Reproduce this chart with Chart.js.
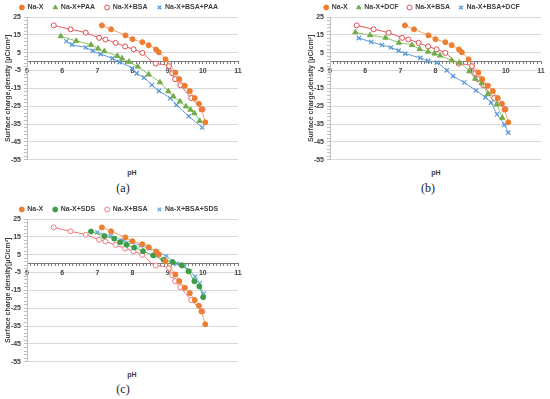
<!DOCTYPE html>
<html>
<head>
<meta charset="utf-8">
<script src="https://cdn.jsdelivr.net/npm/chart.js@4.4.0/dist/chart.umd.min.js"></script>
<style>
  body { margin: 0; width: 550px; height: 399px; overflow: hidden; background: #fff; position: relative; }
  canvas { position: absolute; }
  .lbl { position: absolute; transform: translate(-50%, -50%); white-space: nowrap; color: #404040; }
  .ph { font: bold 7px "Liberation Sans", Arial, sans-serif; }
  .sub { font: 12px "Liberation Serif", "Times New Roman", serif; color: #222; }
</style>
</head>
<body>
<canvas id="chartA" width="246" height="180"></canvas>
<canvas id="chartB" width="246" height="180"></canvas>
<canvas id="chartC" width="246" height="180"></canvas>
<div class="lbl ph" style="left:132px;top:172px">pH</div>
<div class="lbl sub" style="left:123px;top:188px">(a)</div>
<div class="lbl ph" style="left:436px;top:172px">pH</div>
<div class="lbl sub" style="left:428px;top:188px">(b)</div>
<div class="lbl ph" style="left:132px;top:374px">pH</div>
<div class="lbl sub" style="left:123px;top:389px">(c)</div>
<script>
// pH / surface charge density readings, one pair of arrays per series
const naX_pH = [7.13, 7.39, 7.8, 8.0, 8.28, 8.46, 8.67, 8.75, 8.94, 9.22, 9.33, 9.49, 9.63, 9.77, 9.89, 9.96, 10.07];
const naX_q = [20.3, 18.1, 14.7, 12.6, 10.9, 9.2, 6.8, 5.2, 1.3, -6.1, -9.8, -13.5, -16.5, -20.4, -23.6, -26.8, -34.0];

const bsa_pH = [5.76, 6.24, 6.67, 7.05, 7.23, 7.52, 7.79, 8.03, 8.28, 8.66, 9.04, 9.13, 9.21, 9.36, 9.67, 9.99];
const bsa_q = [20.3, 18.1, 16.2, 13.3, 12.4, 10.5, 8.5, 6.9, 4.9, -1.1, -2.5, -6.5, -9.8, -13.2, -20.4, -26.7];

const paa_pH = [5.96, 6.4, 6.82, 7.02, 7.2, 7.57, 7.7, 7.9, 8.15, 8.46, 8.78, 9.02, 9.16, 9.35, 9.52, 9.65, 9.76, 9.91];
const paa_q = [14.2, 11.6, 9.4, 7.3, 5.8, 3.2, 1.8, -0.1, -2.8, -7.2, -11.6, -16.6, -19.5, -22.3, -25.1, -26.9, -28.9, -33.2];

const bsaPaa_pH = [6.12, 6.28, 6.67, 6.87, 7.09, 7.43, 7.63, 7.99, 8.12, 8.33, 8.55, 8.75, 9.07, 9.25, 9.6, 9.98];
const bsaPaa_q = [11.4, 9.5, 7.9, 6.0, 4.2, 1.8, -0.3, -3.8, -6.6, -9.0, -13.1, -16.4, -20.5, -24.2, -30.6, -36.9];

const dcf_pH = [5.72, 6.14, 6.58, 6.96, 7.33, 7.55, 7.79, 7.97, 8.13, 8.46, 8.68, 8.96, 9.13, 9.31, 9.49, 9.74, 9.9];
const dcf_q = [16.4, 14.8, 13.4, 10.6, 9.3, 7.0, 5.6, 4.5, 3.4, 0.7, -0.6, -5.4, -9.6, -12.1, -18.2, -24.0, -31.5];

const bsaDcf_pH = [5.82, 6.17, 6.48, 6.73, 6.95, 7.14, 7.57, 7.79, 8.04, 8.32, 8.5, 8.82, 9.15, 9.42, 9.58, 9.75, 9.96, 10.07];
const bsaDcf_q = [13.2, 11.0, 9.3, 7.9, 6.2, 4.5, 2.1, 0.4, -0.6, -4.9, -8.1, -11.7, -16.2, -20.0, -23.0, -29.5, -35.3, -39.8];

const sds_pH = [6.82, 7.2, 7.48, 7.65, 7.83, 8.05, 8.3, 8.59, 8.88, 9.14, 9.4, 9.59, 9.76, 9.9, 10.01];
const sds_q = [18.0, 15.4, 14.0, 12.0, 10.6, 9.0, 7.0, 4.6, 2.2, 0.9, -0.9, -4.3, -9.9, -12.8, -18.8];

const bsaSds_pH = [7.0, 7.39, 7.73, 7.97, 8.23, 8.48, 8.7, 8.96, 9.26, 9.47, 9.64, 9.78, 9.91, 10.02];
const bsaSds_q = [17.5, 15.6, 13.0, 12.0, 10.0, 8.5, 6.8, 4.2, 0.0, -1.5, -4.2, -7.3, -11.0, -16.8];

const yTicksMin = -55, yTicksMax = 25;
const xTicksMin = 5, xTicksMax = 11;

const tickFont = { family: '"Liberation Sans", Arial, sans-serif', size: 7, weight: 'bold' };
const textColor = '#404040';

function series(label, px, qv, style) {
  return Object.assign({
    label,
    data: px.map((x, i) => ({ x, y: qv[i] })),
    showLine: true,
    borderWidth: 1,
    cubicInterpolationMode: 'monotone'
  }, style);
}

const orange = { pointStyle: 'circle', pointRadius: 2.5, borderColor: '#F3A061', pointBackgroundColor: '#ED7D31', pointBorderColor: '#ED7D31', pointBorderWidth: 1 };
const green = { pointStyle: 'triangle', pointRadius: 3, borderColor: '#8CC068', pointBackgroundColor: '#70AD47', pointBorderColor: '#70AD47', pointBorderWidth: 1 };
const red = { pointStyle: 'circle', pointRadius: 2.5, borderColor: '#E05A5E', pointBackgroundColor: '#fff', pointBorderColor: '#E04B4F', pointBorderWidth: 1 };
const blue = { pointStyle: 'crossRot', pointRadius: 3, borderColor: '#5B9BD5', pointBackgroundColor: '#5B9BD5', pointBorderColor: '#5B9BD5', pointBorderWidth: 1.3 };
const pink = { pointStyle: 'circle', pointRadius: 2.5, borderColor: '#EE6F73', pointBackgroundColor: '#fff', pointBorderColor: '#F07C80', pointBorderWidth: 1 };
const darkGreen = { pointStyle: 'circle', pointRadius: 2.5, borderColor: '#5CAE5C', pointBackgroundColor: '#3E9B48', pointBorderColor: '#3E9B48', pointBorderWidth: 1 };
const lightBlue = { pointStyle: 'crossRot', pointRadius: 3, borderColor: '#7DB5E3', pointBackgroundColor: '#6FA9DC', pointBorderColor: '#6FA9DC', pointBorderWidth: 1.3 };

// legend sits closer to the plot than Chart.js allows by default
const legendGap = {
  id: 'legendGap',
  beforeInit(chart) {
    const fit = chart.legend.fit;
    chart.legend.fit = function () {
      fit.call(this);
      this.height = chart.options.plugins.legend.labels.padding + 13;
    };
  }
};

function makePanel(id, left, areaTop, legendPad, datasets, yTitle) {
  const cv = document.getElementById(id);
  const top = areaTop - (legendPad + 13);
  cv.style.left = left + 'px';
  cv.style.top = top + 'px';
  cv.height = (areaTop + 144) - top + 6;

  return new Chart(cv, {
    type: 'scatter',
    data: { datasets },
    plugins: [legendGap],
    options: {
      responsive: false,
      animation: false,
      layout: { padding: { left: 0, right: 8, top: 0, bottom: 6 } },
      plugins: {
        tooltip: { enabled: false },
        legend: {
          position: 'top',
          labels: {
            usePointStyle: true,
            boxWidth: 4,
            boxHeight: 3.5,
            padding: legendPad,
            font: tickFont,
            color: textColor
          }
        }
      },
      scales: {
        x: {
          type: 'linear',
          min: xTicksMin,
          max: xTicksMax,
          position: { y: 0 },
          ticks: {
            stepSize: 0.1,
            autoSkip: false,
            maxRotation: 0,
            padding: 3,
            font: tickFont,
            color: textColor,
            callback: v => (Math.abs(v - Math.round(v)) < 1e-6 ? Math.round(v) : '')
          },
          grid: { drawOnChartArea: false, tickLength: 2, tickColor: '#7a7a7a' },
          border: { color: '#7a7a7a' }
        },
        y: {
          min: yTicksMin,
          max: yTicksMax,
          ticks: {
            stepSize: 2,
            autoSkip: false,
            padding: 3,
            font: tickFont,
            color: textColor,
            callback: v => ((v - yTicksMin) % 10 === 0 ? v : '')
          },
          grid: {
            color: c => (c.tick && (c.tick.value - yTicksMin) % 10 === 0 ? '#d9d9d9' : 'rgba(0,0,0,0)'),
            tickColor: '#bfbfbf',
            tickLength: 3
          },
          border: { color: '#bfbfbf' },
          title: {
            display: true,
            text: yTitle,
            font: tickFont,
            color: textColor,
            padding: { top: 4, bottom: 0 }
          },
          afterFit: s => { s.width = 27; }
        }
      }
    }
  });
}

makePanel('chartA', 0, 17, 10, [
  series('Na-X', naX_pH, naX_q, orange),
  series('Na-X+PAA', paa_pH, paa_q, green),
  series('Na-X+BSA', bsa_pH, bsa_q, red),
  series('Na-X+BSA+PAA', bsaPaa_pH, bsaPaa_q, blue)
], 'Surface charge,density [μC/cm²]');

makePanel('chartB', 303, 17, 9, [
  series('Na-X', naX_pH, naX_q, orange),
  series('Na-X+DCF', dcf_pH, dcf_q, green),
  series('Na-X+BSA', bsa_pH, bsa_q, red),
  series('Na-X+BSA+DCF', bsaDcf_pH, bsaDcf_q, blue)
], 'Surface charge,density [μC/cm²]');

makePanel('chartC', 0, 219, 10, [
  series('Na-X', naX_pH, naX_q, orange),
  series('Na-X+SDS', sds_pH, sds_q, darkGreen),
  series('Na-X+BSA', bsa_pH, bsa_q, pink),
  series('Na-X+BSA+SDS', bsaSds_pH, bsaSds_q, lightBlue)
], 'Surface charge density[μC/cm²]');
</script>
</body>
</html>
